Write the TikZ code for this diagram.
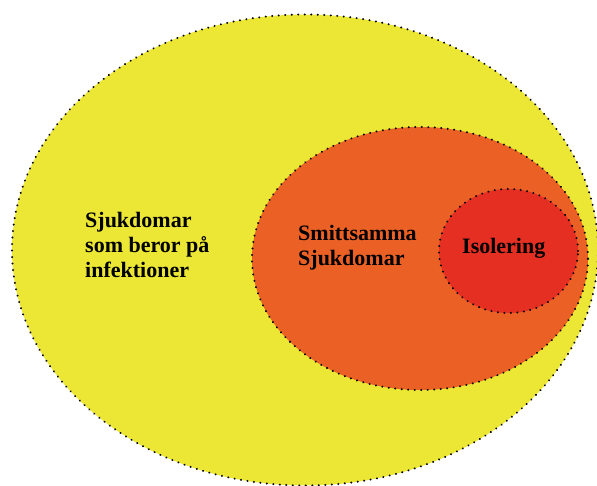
\documentclass[tikz,border=0pt]{standalone}
\usepackage{fontspec}
\setmainfont{Liberation Serif}
\usetikzlibrary{shapes.geometric}
\definecolor{cyellow}{RGB}{236,230,52}
\definecolor{corange}{RGB}{235,96,37}
\definecolor{cred}{RGB}{229,47,34}
\tikzset{
  setshape/.style={ellipse, inner sep=0pt, draw=black, line width=2.2pt,
    dash pattern=on 0.01pt off 6.5pt, line cap=round},
  lbl/.style={inner sep=0pt, align=left, font=\bfseries\fontsize{22}{25}\selectfont}
}
\begin{document}
\begin{tikzpicture}[x=1pt,y=-1pt]
\useasboundingbox (0,0) rectangle (597,486);
\node[setshape, fill=cyellow, minimum width=586pt, minimum height=471pt] (outer) at (305,250) {};
\node[setshape, fill=corange, minimum width=336pt, minimum height=263pt] (mid) at (420,258.5) {};
\node[setshape, fill=cred, minimum width=139pt, minimum height=124pt] (inner) at (508.5,251) {};
\node[lbl, anchor=base west] (t1) at (85,278) {Sjukdomar\\som beror på\\infektioner};
\node[lbl, anchor=base west] (t2) at (298,266) {Smittsamma\\Sjukdomar};
\node[lbl, anchor=base west] (t3) at (462,254) {Isolering};
\end{tikzpicture}
\end{document}
